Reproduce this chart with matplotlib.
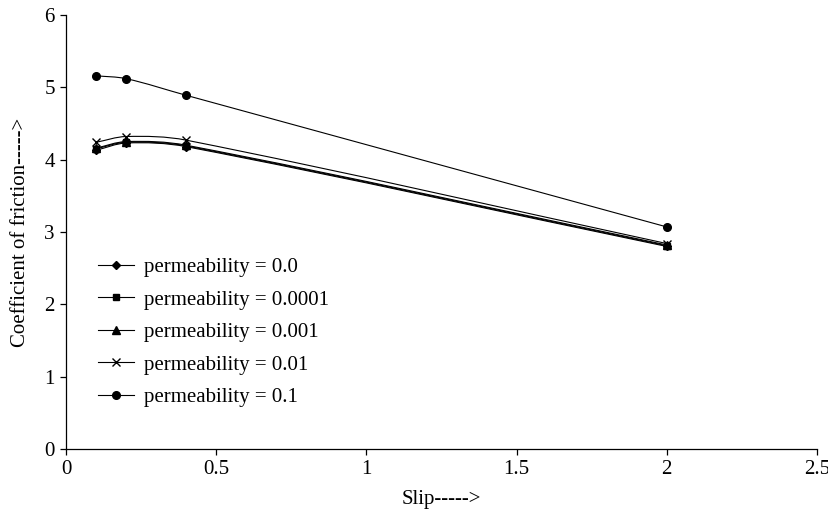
import numpy as np
import matplotlib.pyplot as plt
from matplotlib.path import Path
from matplotlib.patches import PathPatch
from matplotlib.lines import Line2D

plt.rcParams['font.family'] = ['Liberation Serif', 'DejaVu Serif']

slip = [0.1, 0.2, 0.4, 2.0]
perm_labels = ['permeability = 0.0', 'permeability = 0.0001', 'permeability = 0.001',
               'permeability = 0.01', 'permeability = 0.1']
cof_00 = [4.13, 4.23, 4.18, 2.80]
cof_0001 = [4.15, 4.24, 4.19, 2.81]
cof_001 = [4.16, 4.25, 4.20, 2.82]
cof_01 = [4.24, 4.32, 4.27, 2.84]
cof_1 = [5.16, 5.12, 4.89, 3.07]
series = [cof_00, cof_0001, cof_001, cof_01, cof_1]
markers = ['D', 's', '^', 'x', 'o']
msizes = [4.5, 5, 5.5, 5.5, 5.5]

fig = plt.figure(figsize=(8.29, 5.14), dpi=100)
ax = fig.add_axes([0.0796, 0.1265, 0.9059, 0.8443])
ax.set_xlim(0, 2.5)
ax.set_ylim(0, 6)


def smooth_path(xs, ys):
    # excel-like smoothed line, built in display space
    pts = ax.transData.transform(np.column_stack([xs, ys]))
    n = len(pts)
    verts = [pts[0]]
    codes = [Path.MOVETO]
    for i in range(n - 1):
        p0, p1 = pts[i], pts[i + 1]
        seg = np.linalg.norm(p1 - p0)
        d0 = pts[min(i + 1, n - 1)] - pts[max(i - 1, 0)]
        d1 = pts[min(i + 2, n - 1)] - pts[i]
        d0 = d0 / np.linalg.norm(d0)
        d1 = d1 / np.linalg.norm(d1)
        c1 = p0 + d0 * seg / 3
        c2 = p1 - d1 * seg / 3
        verts += [c1, c2, p1]
        codes += [Path.CURVE4] * 3
    verts = ax.transData.inverted().transform(np.array(verts))
    return Path(verts, codes)


handles = []
for ys, m, ms, lab in zip(series, markers, msizes, perm_labels):
    ax.add_patch(PathPatch(smooth_path(slip, ys), fill=False, ec='black', lw=0.8))
    ax.plot(slip, ys, ls='none', marker=m, ms=ms, color='black', mew=1.0)
    handles.append(Line2D([], [], color='black', lw=0.8, marker=m, ms=ms, mew=1.0, label=lab))

for s in ['top', 'right']:
    ax.spines[s].set_visible(False)
ax.spines['left'].set_linewidth(0.9)
ax.spines['bottom'].set_linewidth(0.9)
ax.set_xticks([0, 0.5, 1, 1.5, 2, 2.5])
ax.set_xticklabels(['0', '0.5', '1', '1.5', '2', '2.5'])
ax.set_yticks(range(7))
ax.tick_params(direction='out', length=4, width=0.9, labelsize=15, pad=4)

ax.set_xlabel('Slip----->', fontsize=15, labelpad=8)
ax.set_ylabel('Coefficient of friction----->', fontsize=15, labelpad=10)

ax.legend(handles=handles, loc='upper left', bbox_to_anchor=(0.031, 0.46), frameon=False,
          fontsize=15, handlelength=1.75, labelspacing=0.62, handletextpad=0.5,
          borderaxespad=0)

fig.savefig('out.png', dpi=100)
